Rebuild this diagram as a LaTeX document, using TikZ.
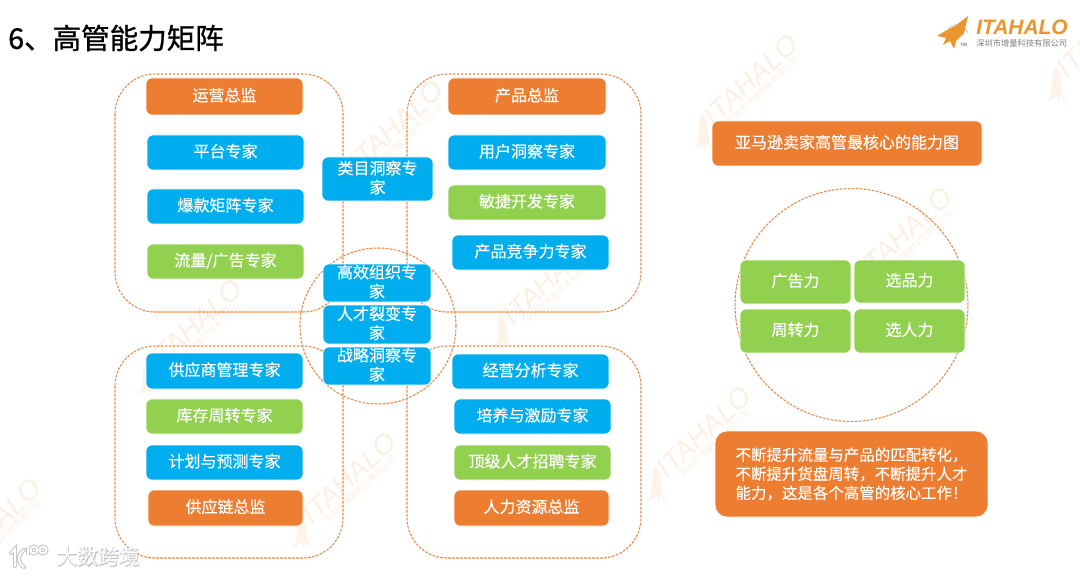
\documentclass[tikz,border=0pt]{standalone}
\usepackage{fontspec}
\setmainfont{Noto Sans CJK SC}
\newfontfamily\latinsf{Liberation Sans}
\newfontfamily\cardfont[FakeBold=0.3]{Noto Sans CJK SC}
\newfontfamily\titlefont[FakeBold=1]{Noto Sans CJK SC}
\newfontfamily\halofont[FakeBold=3.5]{Noto Sans CJK SC}
\definecolor{cblue}{HTML}{00AEEF}
\definecolor{cgreen}{HTML}{92D050}
\definecolor{corange}{HTML}{ED7D31}
\definecolor{cdash}{HTML}{E58B4E}
\definecolor{cwm}{HTML}{FCF0E2}
\definecolor{cwmr}{HTML}{FDF4E9}
\definecolor{clogo}{HTML}{E9962E}
\definecolor{chalo}{HTML}{C4C4C4}
\tikzset{
 card/.style={rounded corners=4.5pt,draw=white,line width=0.5pt,text=white,font=\cardfont\fontsize{12pt}{14.3pt}\selectfont,align=center,inner sep=0pt},
 bluecard/.style={card,fill=cblue},
 greencard/.style={card,fill=cgreen},
 orangecard/.style={card,fill=corange},
 zone/.style={draw=cdash,line width=0.8pt,dash pattern=on 2pt off 1pt,rounded corners=30pt},
 ringline/.style={draw=cdash,line width=0.8pt,dash pattern=on 2pt off 1pt},
 wmtext/.style={text=cwm,font=\latinsf\itshape\fontsize{21pt}{21pt}\selectfont,rotate=43,inner sep=0pt},
 wmsub/.style={text=cwm,font=\fontsize{6.4pt}{7pt}\selectfont,rotate=43,inner sep=0pt},
}
% box from pixel corners: name, style, x0, y0, x1, y1, text
\newcommand{\pxbox}[7]{%
 \pgfmathsetmacro{\bw}{(#5-#3)*0.75}\pgfmathsetmacro{\bh}{(#6-#4)*0.75}%
 \node[#2,minimum width=\bw pt,minimum height=\bh pt] (#1) at ({(#3+#5)/2},{(#4+#6)/2}) {#7\rule[-3pt]{0pt}{0pt}};}
\newcommand{\wmark}[3]{%
 \node[wmtext] (#1t) at (#2,#3) {ITAHALO};
 \node[wmsub] (#1s) at (#2+11,#3+11) {深圳市增量科技有限公司};
 \fill[cwmr] (#2-49,#3+33) .. controls (#2-44,#3+42) and (#2-42,#3+52) .. (#2-42,#3+62) -- (#2-36,#3+70) -- (#2-44,#3+64) -- (#2-45,#3+71) -- (#2-47,#3+64) -- (#2-57,#3+70) -- (#2-52,#3+60) .. controls (#2-53,#3+50) and (#2-52,#3+42) .. cycle;
}
\begin{document}
\begin{tikzpicture}[x=0.75pt,y=-0.75pt]
\fill[white] (0,0) rectangle (1080,577);
\path[use as bounding box] (0,0) rectangle (1080,577);
% watermarks
\wmark{wa}{396}{126}
\wmark{wb}{751}{80}
\wmark{wc}{195}{325}
\wmark{wd}{550}{279}
\wmark{we}{905}{233}
\wmark{wf}{349}{478}
\wmark{wg}{704}{432}
\wmark{wh}{-6}{524}
\wmark{wi}{1104}{32}
% zones
\draw[zone] (115,74) rectangle (343,312);
\draw[zone] (407,74) rectangle (641,312);
\draw[zone] (115,346) rectangle (343,558);
\draw[zone] (407,346) rectangle (641,558);
\node[ringline,circle,minimum size=117pt,inner sep=0pt] (ringa) at (378,326) {};
\node[ringline,circle,minimum size=174.7pt,inner sep=0pt] (ringb) at (851.5,305) {};
% title
\node[anchor=west,inner sep=0pt,font=\titlefont\fontsize{21.4pt}{24pt}\selectfont] (title) at (8,38) {6、高管能力矩阵};
% top-left
\pxbox{a1}{orangecard}{146}{78}{303}{115}{运营总监}
\pxbox{a2}{bluecard}{147}{135}{304}{170}{平台专家}
\pxbox{a3}{bluecard}{147}{189}{304}{224}{爆款矩阵专家}
\pxbox{a4}{greencard}{147}{244}{304}{279}{流量/广告专家}
% top-right
\pxbox{b1}{orangecard}{448}{78}{606}{115}{产品总监}
\pxbox{b2}{bluecard}{448}{135}{606}{170}{用户洞察专家}
\pxbox{b3}{greencard}{448}{185}{606}{220}{敏捷开发专家}
\pxbox{b4}{bluecard}{452}{235}{609}{270}{产品竞争力专家}
% middle
\pxbox{m0}{bluecard}{322}{157}{433}{201}{类目洞察专\\家}
\pxbox{m1}{bluecard}{323}{264}{431}{302}{高效组织专\\家}
\pxbox{m2}{bluecard}{323}{305}{431}{344}{人才裂变专\\家}
\pxbox{m3}{bluecard}{323}{347}{431}{385}{战略洞察专\\家}
% bottom-left
\pxbox{c1}{bluecard}{146}{353}{303}{389}{供应商管理专家}
\pxbox{c2}{greencard}{146}{399}{303}{434}{库存周转专家}
\pxbox{c3}{bluecard}{146}{445}{303}{480}{计划与预测专家}
\pxbox{c4}{orangecard}{148}{490}{303}{526}{供应链总监}
% bottom-right
\pxbox{d1}{bluecard}{452}{354}{609}{389}{经营分析专家}
\pxbox{d2}{bluecard}{454}{399}{611}{434}{培养与激励专家}
\pxbox{d3}{greencard}{454}{445}{611}{480}{顶级人才招聘专家}
\pxbox{d4}{orangecard}{454}{490}{609}{526}{人力资源总监}
% right column
\pxbox{e0}{orangecard}{712}{121}{982}{166}{亚马逊卖家高管最核心的能力图}
\pxbox{e1}{greencard}{740}{260}{851}{304}{广告力}
\pxbox{e2}{greencard}{854}{260}{965}{303}{选品力}
\pxbox{e3}{greencard}{740}{309}{851}{353}{周转力}
\pxbox{e4}{greencard}{854}{309}{965}{353}{选人力}
\node[orangecard,rounded corners=9pt,minimum width=204.7pt,minimum height=64.5pt,align=left,font=\cardfont\fontsize{11.6pt}{14.3pt}\selectfont] (e5) at (851.5,474) {不断提升流量与产品的匹配转化，\\不断提升货盘周转，不断提升人才\\能力，这是各个高管的核心工作！};
% logo
\draw[gray!50,line width=0.6pt] (948,29) .. controls (956,22) and (964,24) .. (968,33);
\fill[clogo] (968,16) -- (964,33) -- (956,41) -- (954,49) -- (950,41) -- (943,45) -- (946,38) -- (937,36) -- (947,30) -- (955,26) -- cycle;
\node[anchor=west,inner sep=0pt,text=clogo,font=\latinsf\itshape\bfseries\fontsize{15.7pt}{18pt}\selectfont] (logoname) at (976,27) {ITAHALO};
\node[anchor=west,inner sep=0pt,text=gray,font=\fontsize{6.2pt}{7pt}\selectfont] (logosub) at (976,43) {深圳市增量科技有限公司};
\node[anchor=west,inner sep=0pt,text=gray,font=\latinsf\bfseries\fontsize{3.5pt}{4pt}\selectfont] (logotm) at (960,45) {TM};
% stamp
\node[anchor=west,inner sep=0pt,text=chalo,font=\halofont\fontsize{15.5pt}{18pt}\selectfont] (stamphalo) at (57,557) {大数跨境};
\node[anchor=west,inner sep=0pt,text=white,font=\fontsize{15.5pt}{18pt}\selectfont] (stamp) at (57,557) {大数跨境};
\foreach \lw/\col in {3pt/chalo,1.5pt/white}{
 \draw[\col,line width=\lw,line cap=round] (11,553) -- (15,549) -- (15,566);
 \draw[\col,line width=\lw,line cap=round] (24,550) .. controls (17,555) and (17,562) .. (24,567);
 \draw[\col,line width=\lw] (28,547) -- (28,555);
 \draw[\col,line width=\lw] (34,550) circle (3.5);
 \draw[\col,line width=\lw] (43,550) circle (3.5);
}
\end{tikzpicture}
\end{document}
